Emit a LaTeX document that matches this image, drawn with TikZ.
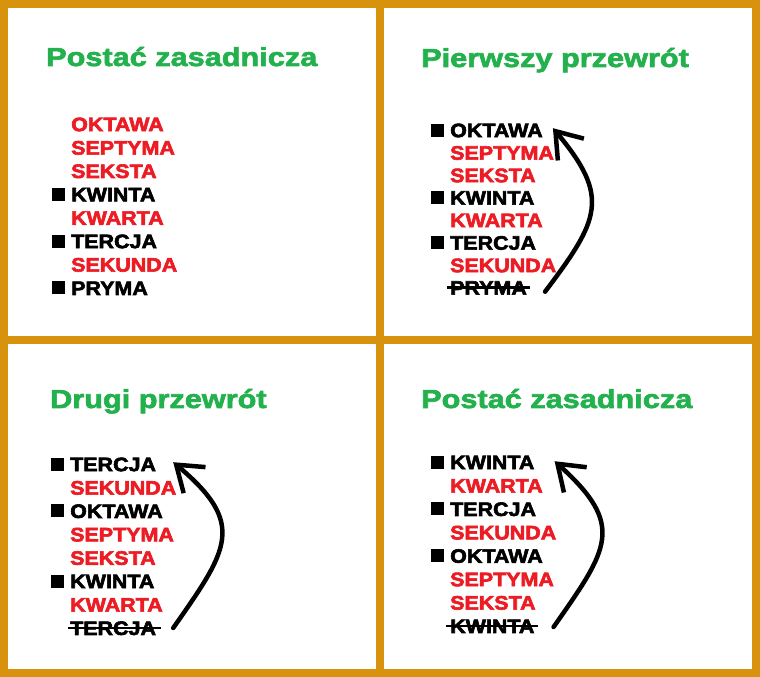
\documentclass[tikz,border=0pt]{standalone}
\usepackage{fontspec}
\usetikzlibrary{arrows.meta, positioning}
\newfontfamily\headfont[FakeStretch=1.18, FakeBold=2.5]{Liberation Sans}
\newfontfamily\itemfont[FakeStretch=1.1, FakeBold=3]{Liberation Sans}
\definecolor{framegold}{RGB}{216,146,14}
\definecolor{headgreen}{RGB}{34,177,76}
\definecolor{itemred}{RGB}{237,28,36}

\begin{document}
\begin{tikzpicture}[
	x=1pt, y=1pt,
	node distance=9pt and 0pt,
	head/.style={anchor=base west, inner sep=0pt, text=headgreen,
		font=\headfont\bfseries\fontsize{26}{26}\selectfont},
	item/.style={anchor=north west, inner sep=0pt, text height=14pt, text depth=0pt,
		text=itemred, font=\itemfont\bfseries\fontsize{19.5}{20}\selectfont},
	root/.style={item, text=black},
	bullet/.style={rectangle, fill=black, inner sep=0pt, minimum size=13pt},
	strike/.style={draw, line width=2.7pt},
	line/.style={draw, line width=4.5pt, line cap=round,
		-{Straight Barb[length=24pt, width=34pt]}},
	]
	
	% frame
	\fill [framegold] (0,0) rectangle (760,677);
	\fill [white] (8,341) rectangle (376,669);
	\fill [white] (384,341) rectangle (752,669);
	\fill [white] (8,8) rectangle (376,333);
	\fill [white] (384,8) rectangle (752,333);
	
	% top left
	\node [head] (t1) at (46,611) {Postać zasadnicza};
	\node [item] (a1) at (71,560) {OKTAWA};
	\node [item, below right= of a1.south west] (a2) {SEPTYMA};
	\node [item, below right= of a2.south west] (a3) {SEKSTA};
	\node [root, below right= of a3.south west] (a4) {KWINTA};
	\node [item, below right= of a4.south west] (a5) {KWARTA};
	\node [root, below right= of a5.south west] (a6) {TERCJA};
	\node [item, below right= of a6.south west] (a7) {SEKUNDA};
	\node [root, below right= of a7.south west] (a8) {PRYMA};
	\node [bullet, left=6pt of a4] (ma4) {};
	\node [bullet, left=6pt of a6] (ma6) {};
	\node [bullet, left=6pt of a8] (ma8) {};
	
	% top right
	\node [head] (t2) at (421,610) {Pierwszy przewrót};
	\begin{scope}[node distance=8.1pt and 0pt]
	\node [root] (b1) at (450,554) {OKTAWA};
	\node [item, below right= of b1.south west] (b2) {SEPTYMA};
	\node [item, below right= of b2.south west] (b3) {SEKSTA};
	\node [root, below right= of b3.south west] (b4) {KWINTA};
	\node [item, below right= of b4.south west] (b5) {KWARTA};
	\node [root, below right= of b5.south west] (b6) {TERCJA};
	\node [item, below right= of b6.south west] (b7) {SEKUNDA};
	\node [root, below right= of b7.south west] (b8) {PRYMA};
	\end{scope}
	\node [bullet, left=6pt of b1] (mb1) {};
	\node [bullet, left=6pt of b4] (mb4) {};
	\node [bullet, left=6pt of b6] (mb6) {};
	\draw [strike] ([xshift=-3pt]b8.west) -- ([xshift=3pt]b8.east);
	\path [line] ([xshift=18pt, yshift=-4pt]b8.east) to[out=53, in=-50, distance=90pt] ([xshift=10pt, yshift=2pt]b1.east);
	
	% bottom left
	\node [head] (t3) at (50,269) {Drugi przewrót};
	\node [root] (c1) at (70,220) {TERCJA};
	\node [item, below right= of c1.south west] (c2) {SEKUNDA};
	\node [root, below right= of c2.south west] (c3) {OKTAWA};
	\node [item, below right= of c3.south west] (c4) {SEPTYMA};
	\node [item, below right= of c4.south west] (c5) {SEKSTA};
	\node [root, below right= of c5.south west] (c6) {KWINTA};
	\node [item, below right= of c6.south west] (c7) {KWARTA};
	\node [root, below right= of c7.south west] (c8) {TERCJA};
	\node [bullet, left=6pt of c1] (mc1) {};
	\node [bullet, left=6pt of c3] (mc3) {};
	\node [bullet, left=6pt of c6] (mc6) {};
	\draw [strike] ([xshift=-2pt]c8.west) -- ([xshift=5pt]c8.east);
	\path [line] ([xshift=17pt]c8.east) to[out=55, in=-40, distance=96pt] ([xshift=17pt, yshift=2pt]c1.east);
	
	% bottom right
	\node [head] (t4) at (421,269) {Postać zasadnicza};
	\node [root] (d1) at (450,222) {KWINTA};
	\node [item, below right= of d1.south west] (d2) {KWARTA};
	\node [root, below right= of d2.south west] (d3) {TERCJA};
	\node [item, below right= of d3.south west] (d4) {SEKUNDA};
	\node [root, below right= of d4.south west] (d5) {OKTAWA};
	\node [item, below right= of d5.south west] (d6) {SEPTYMA};
	\node [item, below right= of d6.south west] (d7) {SEKSTA};
	\node [root, below right= of d7.south west] (d8) {KWINTA};
	\node [bullet, left=6pt of d1] (md1) {};
	\node [bullet, left=6pt of d3] (md3) {};
	\node [bullet, left=6pt of d5] (md5) {};
	\draw [strike] ([xshift=-4pt]d8.west) -- ([xshift=3pt]d8.east);
	\path [line] ([xshift=19pt, yshift=-1pt]d8.east) to[out=55, in=-42, distance=96pt] ([xshift=20pt, yshift=1pt]d1.east);
\end{tikzpicture}
\end{document}
